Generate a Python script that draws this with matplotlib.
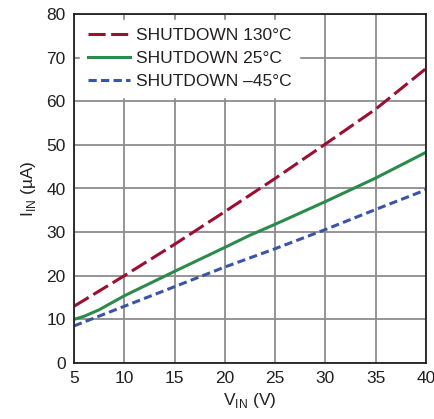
import matplotlib
matplotlib.use("Agg")
import matplotlib.pyplot as plt

plt.rcParams['font.family'] = ['Liberation Sans', 'DejaVu Sans']
plt.rcParams['mathtext.fontset'] = 'custom'
plt.rcParams['mathtext.rm'] = 'Liberation Sans'

v_130 = [5, 10, 15, 20, 25, 30, 35, 40]
i_130 = [13, 20, 27.2, 34.7, 42.3, 50.2, 58.2, 67.5]
v_25 = [5, 6, 7.5, 10, 15, 20, 22.5, 25, 30, 35, 40]
i_25 = [10, 10.7, 12.2, 15.4, 21, 26.5, 29.3, 31.8, 37, 42.4, 48.3]
v_m45 = [5, 10, 15, 20, 25, 30, 35, 40]
i_m45 = [8.5, 13, 17.5, 22, 26.2, 30.6, 35.2, 39.7]

fig = plt.figure(figsize=(4.34, 4.19), dpi=100)
ax = fig.add_axes([74 / 434, 1 - 363 / 419, 352 / 434, 349 / 419])

ax.plot(v_130, i_130, color='#9a0f32', lw=2.2, dashes=(5.6, 1.8), label='SHUTDOWN 130°C')
ax.plot(v_25, i_25, color='#2c8a4b', lw=2.2, label='SHUTDOWN 25°C')
ax.plot(v_m45, i_m45, color='#3b55a6', lw=2.2, dashes=(2.7, 1.4), label='SHUTDOWN \u201345°C')

ax.set_xlim(5, 40)
ax.set_ylim(0, 80)
ax.set_xticks(range(5, 41, 5))
ax.set_yticks(range(0, 81, 10))
ax.grid(True, color='#8c8c8c', lw=1.3)
ax.set_axisbelow(True)
ax.tick_params(length=0, labelsize=12.5, pad=6, colors='#231f20')
for s in ax.spines.values():
    s.set_color('#231f20')
    s.set_linewidth(1.3)

ax.set_xlabel(r'V$_{\mathregular{IN}}$ (V)', fontsize=12.5, color='#231f20', labelpad=3)
ax.set_ylabel(r'I$_{\mathregular{IN}}$ (µA)', fontsize=12.5, color='#231f20', labelpad=6)

leg = ax.legend(loc='upper left', fontsize=12.5, frameon=True, fancybox=False,
                handlelength=2.4, handletextpad=0.35, labelspacing=0.45,
                borderaxespad=0.35, borderpad=0.45)
leg.get_frame().set_edgecolor('white')
leg.get_frame().set_facecolor('white')
leg.get_frame().set_alpha(1)
for t in leg.get_texts():
    t.set_color('#231f20')

fig.savefig('out.png', dpi=100)
